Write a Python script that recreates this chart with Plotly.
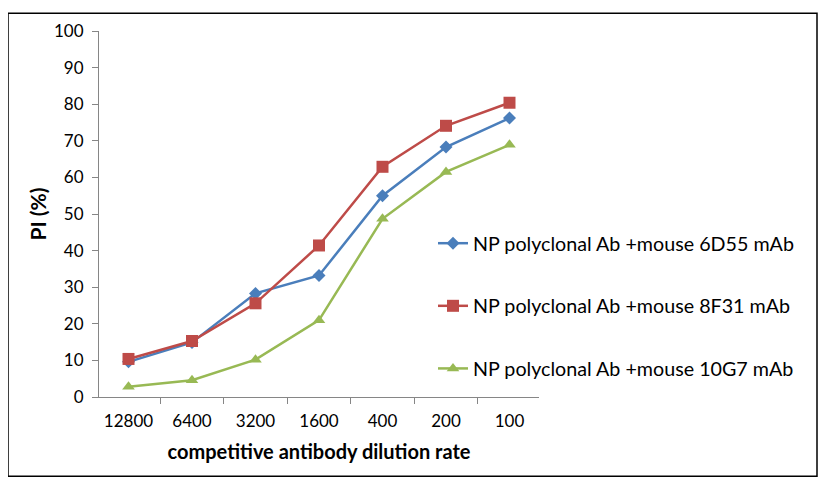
import plotly.graph_objects as go

categories = ["12800", "6400", "3200", "1600", "400", "200", "100"]
series_names = [
    "NP polyclonal Ab +mouse 6D55 mAb",
    "NP polyclonal Ab +mouse 8F31 mAb",
    "NP polyclonal Ab +mouse 10G7 mAb",
]
values_6d55 = [9.6, 14.9, 28.3, 33.2, 55.0, 68.3, 76.2]
values_8f31 = [10.4, 15.3, 25.6, 41.4, 62.9, 74.1, 80.4]
values_10g7 = [2.8, 4.6, 10.2, 21.0, 48.7, 61.5, 68.9]
y_ticks = [0, 10, 20, 30, 40, 50, 60, 70, 80, 90, 100]

colors = ["#4A7EBB", "#BE4B48", "#98B954"]
symbols = ["diamond", "square", "triangle-up"]
sizes = [10, 12, 11]

FONT = "Lato"
OFF = 8  # page body margin

fig = go.Figure()
for i, (name, vals) in enumerate(zip(series_names, [values_6d55, values_8f31, values_10g7])):
    fig.add_trace(go.Scatter(
        x=categories, y=vals, name=name, mode="lines+markers",
        line=dict(color=colors[i], width=2.5),
        marker=dict(symbol=symbols[i], size=sizes[i], color=colors[i]),
        legendgroup=f"g{i}",
    ))

W, H = 833 - OFF, 482 - OFF
L, T = 99 - OFF, 27 - OFF
R, B = W - (539 - OFF), H - (397 - OFF)
pw, ph = W - L - R, H - T - B

fig.update_layout(
    width=W, height=H,
    margin=dict(l=L, r=R, t=T, b=B, pad=0),
    paper_bgcolor="white", plot_bgcolor="white",
    font=dict(family=FONT, size=16, color="#000000"),
    showlegend=True,
    legend=dict(
        x=(433 - 99) / pw, y=(397 - 222) / ph, xanchor="left", yanchor="top",
        font=dict(family=FONT, size=19.7, color="#000000"),
        tracegroupgap=34, bgcolor="rgba(0,0,0,0)", itemwidth=30,
    ),
    xaxis=dict(
        type="category", showline=True, linecolor="#868686", linewidth=1,
        ticks="outside", tickson="boundaries", ticklen=6, tickcolor="#868686",
        showgrid=False, zeroline=False, ticklabelstandoff=9,
        tickfont=dict(family=FONT, size=17, color="#000000"),
        title=dict(text="<b>competitive antibody dilution rate</b>",
                   font=dict(family=FONT, size=20, color="#000000"), standoff=14),
    ),
    yaxis=dict(
        range=[0, 100], tickvals=y_ticks, showline=True, linecolor="#868686", linewidth=1,
        ticks="outside", ticklen=6, tickcolor="#868686", showgrid=False, zeroline=False,
        ticklabelstandoff=5,
        tickfont=dict(family=FONT, size=17, color="#000000"),
        title=dict(text="<b>PI (%)</b>", font=dict(family=FONT, size=21, color="#000000"), standoff=1),
    ),
)

fig.add_shape(
    type="rect", xref="paper", yref="paper",
    x0=(8 - 99) / pw, x1=(817 - 99) / pw,
    y0=(397 - 477) / ph, y1=(397 - 9) / ph,
    line=dict(color="#000000", width=1.5), fillcolor="rgba(0,0,0,0)", layer="below",
)

fig.write_html("out.html")
